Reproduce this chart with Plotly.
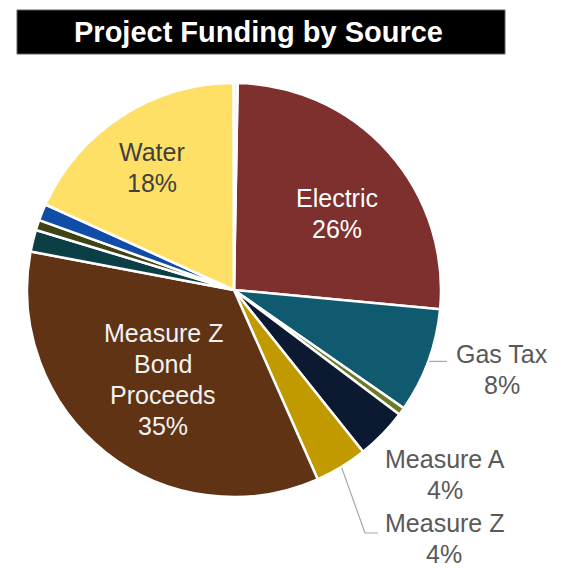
import math
import plotly.graph_objects as go

# ---- data ----
labels = ["Electric", "Gas Tax", "Other A", "Measure A", "Measure Z",
          "Measure Z Bond Proceeds", "Other B", "Other C", "Other D", "Water", "Other E"]
values = [26.2, 8.2, 0.6, 4.0, 4.1, 34.6, 1.7, 0.8, 1.3, 18.2, 0.3]
colors = ["#7D302E", "#0F5A6E", "#6B7A25", "#0B1931", "#C19A00",
          "#603314", "#0B3F45", "#3F4416", "#0F4DA8", "#FFE066", "#F4F4EE"]
label_lines = {
    "Electric": ["Electric"],
    "Gas Tax": ["Gas Tax"],
    "Measure A": ["Measure A"],
    "Measure Z": ["Measure Z"],
    "Measure Z Bond Proceeds": ["Measure Z", "Bond", "Proceeds"],
    "Water": ["Water"],
}

# ---- layout helpers (page has an 8px body margin) ----
OFF = 8
W = H = 560
FONT = "Liberation Sans, Arial"


def px(X):
    return (X - OFF) / W


def py(Y):
    return 1 - (Y - OFF) / H


cx, cy, r = 234, 290, 207
rotation = 1.0
total = sum(values)

fig = go.Figure(go.Pie(
    labels=labels, values=values, sort=False, direction="clockwise", rotation=rotation,
    marker=dict(colors=colors, line=dict(color="white", width=2.5)),
    textinfo="none", showlegend=False, hoverinfo="label+percent",
    domain=dict(x=[px(cx - r), px(cx + r)], y=[py(cy + r), py(cy - r)]),
))

# mid angles (clockwise from 12 o'clock)
mid = {}
cum = 0
for lab, v in zip(labels, values):
    mid[lab] = rotation + (cum + v / 2) / total * 360
    cum += v
pct = {lab: v / total * 100 for lab, v in zip(labels, values)}


def polar(theta, rad):
    t = math.radians(theta)
    return cx + rad * math.sin(t), cy - rad * math.cos(t)


LINE_SP = 31
FS = 25


def add_label(lab, X, Y, color):
    lines = label_lines[lab] + [f"{pct[lab]:.0f}%"]
    n = len(lines)
    for i, s in enumerate(lines):
        fig.add_annotation(text=s, xref="paper", yref="paper", x=px(X), y=py(Y),
                           xanchor="center", yanchor="middle", showarrow=False,
                           yshift=-(i - (n - 1) / 2) * LINE_SP,
                           font=dict(family=FONT, size=FS, color=color))


# inside labels: placed along slice mid-angle (radius fraction, angle nudge, colour)
inside = {"Electric": (0.62, 5, "#FFFFFF"), "Water": (0.71, -1, "#404040"),
          "Measure Z Bond Proceeds": (0.55, 0, "#F2F2F2")}
for lab, (fr, nudge, col) in inside.items():
    X, Y = polar(mid[lab] + nudge, fr * r)
    add_label(lab, X, Y, col)

# outside labels
outside = {"Gas Tax": (502, 369), "Measure A": (445, 474), "Measure Z": (444, 538)}
for lab, (X, Y) in outside.items():
    add_label(lab, X, Y, "#595959")

# leader lines
line_col = "#A6A6A6"
x0, y0 = polar(mid["Gas Tax"], r + 1)
fig.add_shape(type="path", xref="paper", yref="paper",
              path=f"M {px(x0)},{py(y0)} L {px(447)},{py(y0)}",
              line=dict(color=line_col, width=1.2))
x0, y0 = polar(mid["Measure Z"], r + 1)
fig.add_shape(type="path", xref="paper", yref="paper",
              path=f"M {px(x0)},{py(y0)} L {px(365)},{py(533)} L {px(378)},{py(533)}",
              line=dict(color=line_col, width=1.2))

# title box
fig.add_shape(type="rect", xref="paper", yref="paper",
              x0=px(17), x1=px(505), y0=py(54), y1=py(10),
              fillcolor="black", line=dict(color="#606060", width=1))
fig.add_annotation(text="<b>Project Funding by Source</b>", xref="paper", yref="paper",
                   x=px(258), y=py(32), xanchor="center", yanchor="middle", showarrow=False,
                   font=dict(family=FONT, size=29, color="white"))

fig.update_layout(width=W, height=H, margin=dict(l=0, r=0, t=0, b=0),
                  paper_bgcolor="white", plot_bgcolor="white")
fig.write_html("out.html")
